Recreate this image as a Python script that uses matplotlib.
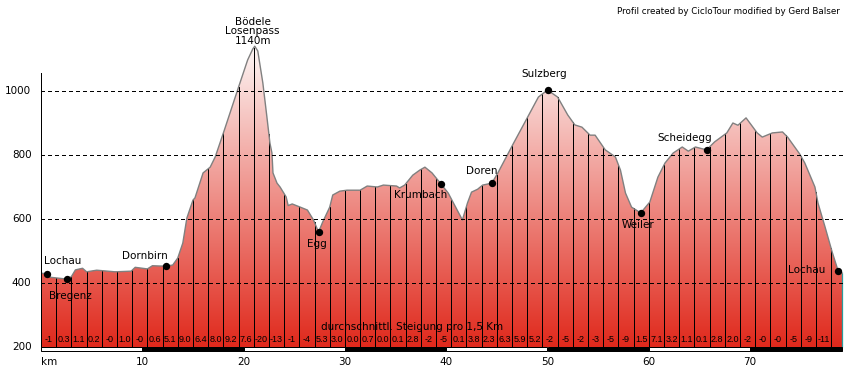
import numpy as np
import matplotlib.pyplot as plt
from matplotlib.colors import LinearSegmentedColormap
from matplotlib.patches import Rectangle, Polygon

# Höhenprofil: Distanz (km) und Höhe (m)
profil_km = [0.0, 0.6, 0.9, 2.6, 3.0, 3.4, 4.1, 4.5, 5.5, 7.3, 8.9, 9.3,
             10.5, 11.0, 11.8, 12.3, 13.0, 13.5, 14.0, 14.4, 15.0, 15.2,
             16.0, 16.7, 17.2, 18.1, 19.5, 20.4, 20.9, 21.1, 21.4, 21.9,
             22.3, 22.6, 22.8, 22.9, 23.3, 23.6, 24.2, 24.4, 24.8, 25.6,
             26.3, 26.9, 27.4, 27.8, 28.5, 28.8, 29.5, 30.2, 31.5, 32.2,
             33.2, 33.8, 35.1, 35.4, 35.9, 36.7, 37.4, 37.9, 38.6, 39.5,
             40.2, 41.6, 42.1, 42.5, 43.1, 43.6, 44.5, 45.1, 46.6, 48.1,
             49.1, 50.0, 51.0, 52.0, 52.7, 53.4, 54.2, 54.7, 55.7, 56.7,
             57.2, 57.7, 58.3, 59.2, 60.1, 60.9, 61.6, 62.4, 63.3, 63.9,
             64.6, 65.7, 66.5, 67.7, 68.3, 68.8, 69.6, 70.7, 71.2, 72.2,
             73.2, 73.7, 74.9, 75.4, 76.4, 76.7, 77.4, 78.1, 78.7, 79.1]
profil_hoehe = [431, 428, 418, 412, 420, 441, 446, 435, 440, 435, 437, 449,
                444, 454, 453, 453, 456, 478, 525, 603, 659, 666,
                744, 762, 794, 878, 1012, 1097, 1131, 1140, 1125, 1025,
                919, 837, 806, 744, 712, 700, 669, 642, 647, 637,
                628, 597, 559, 590, 637, 675, 687, 690, 690, 703,
                700, 706, 703, 697, 706, 737, 753, 762, 744, 709,
                681, 597, 650, 684, 693, 706, 712, 744, 834, 922,
                981, 1003, 981, 925, 894, 887, 862, 862, 816, 794,
                753, 681, 637, 619, 653, 731, 775, 806, 825, 812,
                825, 816, 841, 869, 900, 893, 916, 869, 856, 869,
                872, 856, 803, 775, 700, 650, 575, 497, 437, 431]

# Orte
orte = ["Lochau", "Bregenz", "Dornbirn", "Egg", "Krumbach", "Doren",
        "Sulzberg", "Weiler", "Scheidegg", "Lochau"]
orte_km = [0.6, 2.6, 12.3, 27.4, 39.5, 44.5, 50.0, 59.2, 65.7, 78.7]
orte_hoehe = [428, 412, 453, 559, 709, 712, 1003, 619, 816, 437]

# durchschnittliche Steigung pro 1,5 km
steigung = ["-1", "0.3", "1.1", "0.2", "-0", "1.0", "-0", "0.6", "5.1", "9.0",
            "6.4", "8.0", "9.2", "7.6", "-20", "-13", "-1", "-4", "5.3", "3.0",
            "0.0", "0.7", "0.0", "0.1", "2.8", "-2", "-5", "0.1", "3.8", "2.3",
            "6.3", "5.9", "5.2", "-2", "-5", "-2", "-3", "-5", "-9", "1.5",
            "7.1", "3.2", "1.1", "0.1", "2.8", "2.0", "-2", "-0", "-0", "-5",
            "-9", "-11"]

y_ticks = [200, 400, 600, 800, 1000]
x_ticks = [10, 20, 30, 40, 50, 60, 70]

plt.rcParams['font.family'] = 'DejaVu Sans'

W, H = 851, 371
fig = plt.figure(figsize=(W / 100, H / 100), dpi=100)
pxkm = 10.13   # Pixel pro km
pxm = 0.32     # Pixel pro m
ax = fig.add_axes([41 / W, 20 / H, 810 / W, 311 / H])
ax.axis('off')

km = np.array(profil_km)
hoehe = np.array(profil_hoehe)

# Farbverlauf unter dem Profil
cmap = LinearSegmentedColormap.from_list('hoehe', ['#e0291c', '#fdf6f5'])
grad = np.linspace(0, 1, 256).reshape(-1, 1)
im = ax.imshow(grad, extent=[0, km[-1], 200, 1140], origin='lower',
               aspect='auto', cmap=cmap, zorder=1)
verts = np.column_stack([np.r_[km[0], km, km[-1]], np.r_[200, hoehe, 200]])
flaeche = Polygon(verts, closed=True, fc='none', ec='none')
ax.add_patch(flaeche)
im.set_clip_path(flaeche)

ax.set_xlim(0, 810 / pxkm)
ax.set_ylim(200 - 4 / pxm, 200 + 307 / pxm)

# senkrechte Linien alle 1,5 km
bx = 1.5 * np.arange(1, len(steigung) + 1)
ax.vlines(bx, 200, np.interp(bx, km, hoehe), color='black', lw=0.72,
          antialiased=False, zorder=2)
ax.vlines(km[-1], 200, hoehe[-1], color='#2a9d9d', lw=0.9, zorder=2)

# Profillinie
ax.plot(km, hoehe, color='#808080', lw=1, zorder=3)

# Gitterlinien
ax.hlines(y_ticks[1:], 0, 79.4, colors='black', lw=0.72, antialiased=False,
          linestyles=(0, (3, 3)), zorder=4)
ax.vlines(0, 200, 1056, color='black', lw=0.72, antialiased=False, zorder=4)
for v in y_ticks:
    ax.text(-0.95, v, str(v), ha='right', va='center', fontsize=7.5)

# km-Band unten
grenzen = [0, 10, 20, 30, 40, 50, 60, 70, km[-1]]
for i in range(len(grenzen) - 1):
    ax.add_patch(Rectangle((grenzen[i], 200 - 4 / pxm), grenzen[i + 1] - grenzen[i],
                           4 / pxm, fc='white' if i % 2 == 0 else 'black',
                           ec='black', lw=0.72, clip_on=False, zorder=4))
y_km = 200 - 15 / pxm
ax.text(0, y_km, "km", ha='left', va='center', fontsize=7.5)
for t in x_ticks:
    ax.text(t, y_km, str(t), ha='center', va='center', fontsize=7.5)

# Steigungswerte
for i, s in enumerate(steigung):
    ax.text(1.5 * i + 0.75, 222, s, ha='center', va='center', fontsize=6.5,
            family='Liberation Sans', zorder=5)
ax.text(36.6, 262, "durchschnittl. Steigung pro 1,5 Km", ha='center',
        va='center', fontsize=7.5, zorder=5)

# Orte
ax.scatter(orte_km, orte_hoehe, s=28, color='black', zorder=6, lw=0)
versatz = [(16, 13), (3, -17), (-21, 10), (-2, -12), (-21, -11), (-10, 12),
           (-3, 16), (-3, -12), (-22, 12), (-32, 1)]
for name, x, y, (dx, dy) in zip(orte, orte_km, orte_hoehe, versatz):
    ax.annotate(name, (x, y), xytext=(dx, dy), textcoords='offset pixels',
                ha='center', va='center', fontsize=7.5, zorder=6)

# Pass
ip = int(np.argmax(hoehe))
ax.annotate("Bödele\nLosenpass\n1140m", (km[ip], hoehe[ip]), xytext=(-2, 15),
            textcoords='offset pixels', ha='center', va='center',
            fontsize=7.5, linespacing=0.95, annotation_clip=False)

fig.text(840 / W, 1 - 11 / H, "Profil created by CicloTour modified by Gerd Balser",
         ha='right', va='center', fontsize=6.3)

fig.savefig('out.png', dpi=100)
